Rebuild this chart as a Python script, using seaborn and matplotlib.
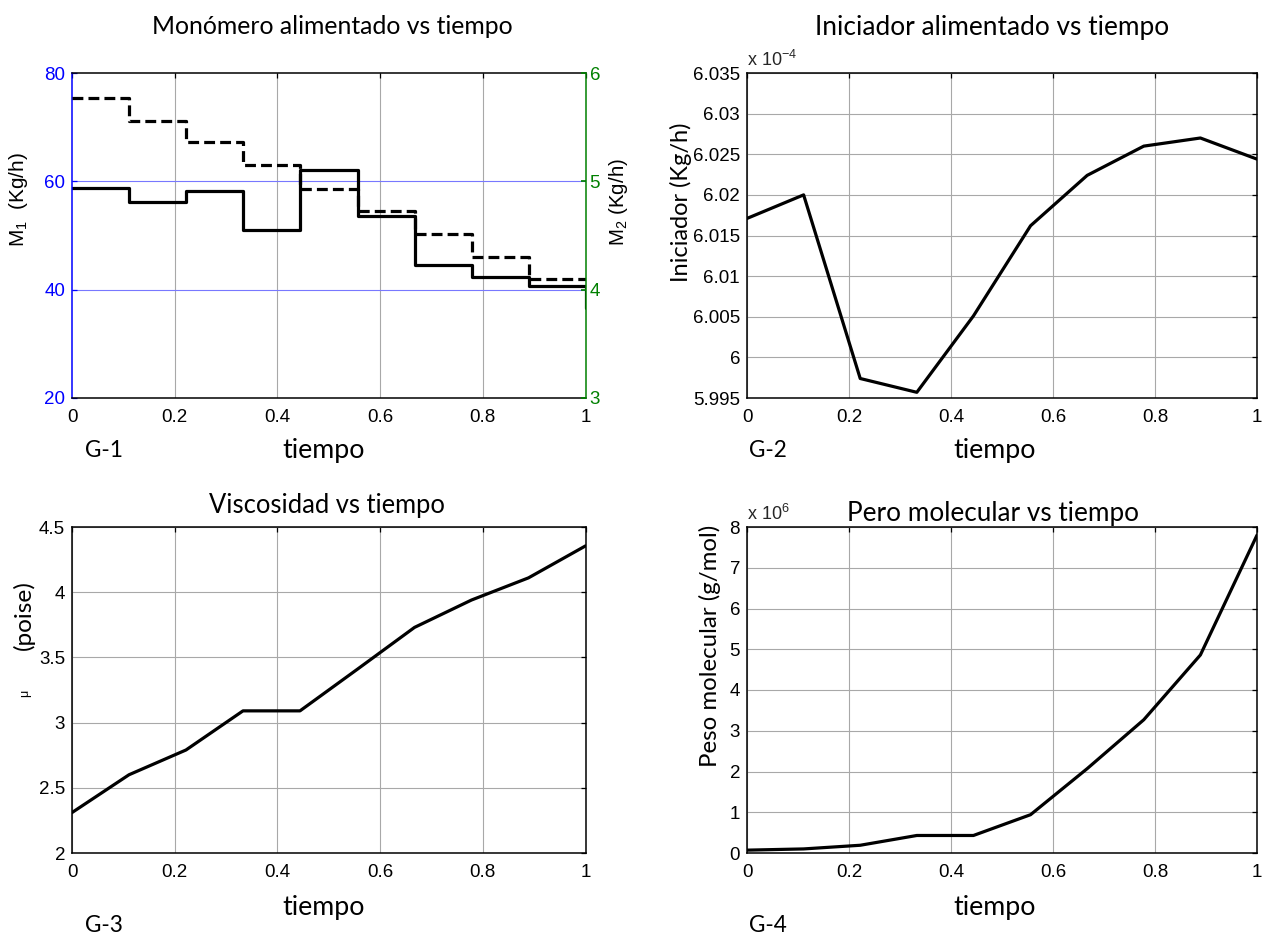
import numpy as np
import pandas as pd
import matplotlib
matplotlib.use("Agg")
import matplotlib.pyplot as plt
import seaborn as sns
from matplotlib.ticker import FuncFormatter, FixedLocator

# ---------------- data ----------------
tiempo = [0.0, 0.111, 0.222, 0.333, 0.444, 0.556, 0.667, 0.778, 0.889, 1.0]
m1_kgh = [58.8, 56.2, 58.3, 51.0, 62.1, 53.6, 44.6, 42.3, 40.6, 36.6]
m2_kgh = [5.77, 5.56, 5.36, 5.15, 4.93, 4.73, 4.51, 4.30, 4.10, 4.10]
iniciador = [6.0171e-4, 6.0200e-4, 5.9974e-4, 5.9957e-4, 6.0051e-4,
             6.0162e-4, 6.0224e-4, 6.0260e-4, 6.0270e-4, 6.0244e-4]
viscosidad = [2.31, 2.60, 2.79, 3.09, 3.09, 3.41, 3.73, 3.94, 4.11, 4.355]
peso_mol = [0.07e6, 0.10e6, 0.19e6, 0.43e6, 0.43e6, 0.94e6, 2.07e6,
            3.27e6, 4.86e6, 7.80e6]
x_ticks = [0, 0.2, 0.4, 0.6, 0.8, 1.0]
m1_ticks = [20, 40, 60, 80]
m2_ticks = [3, 4, 5, 6]
ini_ticks = [5.995e-4, 6.0e-4, 6.005e-4, 6.01e-4, 6.015e-4, 6.02e-4,
             6.025e-4, 6.03e-4, 6.035e-4]
vis_ticks = [2, 2.5, 3, 3.5, 4, 4.5]
peso_ticks = [0, 1e6, 2e6, 3e6, 4e6, 5e6, 6e6, 7e6, 8e6]

df = pd.DataFrame({"tiempo": tiempo, "m1": m1_kgh, "m2": m2_kgh,
                   "ini": iniciador, "vis": viscosidad, "peso": peso_mol})

# ---------------- style ----------------
sns.set_theme(style="white")
MAT = ["Liberation Sans", "DejaVu Sans"]
CAL = ["Lato", "DejaVu Sans"]
plt.rcParams["font.family"] = MAT
plt.rcParams["mathtext.default"] = "regular"
plt.rcParams["axes.linewidth"] = 1.1

W, H = 1262, 933
fig = plt.figure(figsize=(W / 100, H / 100), dpi=100)
fig.patch.set_facecolor("white")


def box(l, r, t, b):
    return [l / W, 1 - b / H, (r - l) / W, (b - t) / H]


def P(x, y):
    return x / W, 1 - y / H


GRID = "#a8a8a8"
BLUE = "#0000ff"
GREEN = "#008000"
LW = 2.3
TICKFS = 13.5
RIGHT = 1257


def base(ax):
    ax.set_facecolor("white")
    for s in ax.spines.values():
        s.set_color("black")
        s.set_linewidth(1.1)
    ax.tick_params(direction="in", length=3.5, width=0.9, top=True, right=True,
                   labelsize=TICKFS, pad=5, colors="black")
    ax.tick_params(axis="x", pad=8)
    ax.set_xlim(0, 1)
    ax.xaxis.set_major_locator(FixedLocator(x_ticks))
    ax.xaxis.set_major_formatter(FuncFormatter(lambda v, p: f"{v:g}"))
    ax.set_xlabel("")
    ax.set_ylabel("")


renderer = None


def fit(t, target, vertical=False):
    global renderer
    if renderer is None:
        renderer = fig.canvas.get_renderer()
    bb = t.get_window_extent(renderer)
    cur = bb.height if vertical else bb.width
    t.set_fontsize(t.get_fontsize() * target / cur)
    return t


def ctext(x, y, s, target=None, fs=18, family=CAL, rot=0, color="black", vertical=False):
    t = fig.text(*P(x, y), s, ha="center", va="center", fontsize=fs,
                 family=family, rotation=rot, color=color)
    if target:
        fit(t, target, vertical)
    return t


# ---------------- G-1 ----------------
ax1 = fig.add_axes(box(72, 585.5, 73, 398))
base(ax1)
ax1.set_ylim(20, 80)
ax1.yaxis.set_major_locator(FixedLocator(m1_ticks))
ax1.tick_params(axis="y", colors=BLUE, right=False)
ax1.spines["left"].set_color(BLUE)
ax1.spines["right"].set_visible(False)
for v in x_ticks[1:-1]:
    ax1.axvline(v, color=GRID, lw=0.8, zorder=0)
for v in m1_ticks[1:-1]:
    ax1.axhline(v, color="#7878ff", lw=0.8, zorder=0)
sns.lineplot(data=df, x="tiempo", y="m1", ax=ax1, color="black", lw=LW,
             drawstyle="steps-post", estimator=None, sort=False)
ax1.set_xlabel("")
ax1.set_ylabel("")

ax2 = ax1.twinx()
ax2.set_ylim(3, 6)
sns.lineplot(data=df, x="tiempo", y="m2", ax=ax2, color="black", lw=LW,
             drawstyle="steps-post", estimator=None, sort=False,
             linestyle=(0, (3.4, 1.6)))
ax2.set_xlabel("")
ax2.set_ylabel("")
ax2.yaxis.set_major_locator(FixedLocator(m2_ticks))
ax2.yaxis.set_major_formatter(FuncFormatter(lambda v, p: f"{v:g}"))
ax2.tick_params(axis="y", direction="in", length=3.5, colors=GREEN,
                labelsize=TICKFS, pad=3, left=False, right=True)
for nm, s in ax2.spines.items():
    s.set_visible(nm == "right")
ax2.spines["right"].set_color(GREEN)
ax2.spines["right"].set_linewidth(1.1)
ax1.set_xlim(0, 1)

# ---------------- G-2 ----------------
ax3 = fig.add_axes(box(747, RIGHT, 73, 398))
base(ax3)
ax3.grid(True, color=GRID, lw=0.8)
ax3.set_axisbelow(True)
ax3.set_ylim(5.995e-4, 6.035e-4)
ax3.yaxis.set_major_locator(FixedLocator(ini_ticks))
ax3.yaxis.set_major_formatter(FuncFormatter(lambda v, p: f"{round(v / 1e-4, 4):g}"))
sns.lineplot(data=df, x="tiempo", y="ini", ax=ax3, color="black", lw=LW,
             estimator=None, sort=False)
ax3.set_xlabel("")
ax3.set_ylabel("")

# ---------------- G-3 ----------------
ax4 = fig.add_axes(box(72, 585.5, 527, 853))
base(ax4)
ax4.grid(True, color=GRID, lw=0.8)
ax4.set_axisbelow(True)
ax4.set_ylim(2, 4.5)
ax4.yaxis.set_major_locator(FixedLocator(vis_ticks))
ax4.yaxis.set_major_formatter(FuncFormatter(lambda v, p: f"{v:g}"))
sns.lineplot(data=df, x="tiempo", y="vis", ax=ax4, color="black", lw=LW,
             estimator=None, sort=False)
ax4.set_xlabel("")
ax4.set_ylabel("")

# ---------------- G-4 ----------------
ax5 = fig.add_axes(box(747, RIGHT, 527, 853))
base(ax5)
ax5.grid(True, color=GRID, lw=0.8)
ax5.set_axisbelow(True)
ax5.set_ylim(0, 8e6)
ax5.yaxis.set_major_locator(FixedLocator(peso_ticks))
ax5.yaxis.set_major_formatter(FuncFormatter(lambda v, p: f"{v / 1e6:g}"))
sns.lineplot(data=df, x="tiempo", y="peso", ax=ax5, color="black", lw=LW,
             estimator=None, sort=False)
ax5.set_xlabel("")
ax5.set_ylabel("")

for a in (ax1, ax3, ax4, ax5):
    a.set_xlim(0, 1)

# ---------------- texts ----------------
ctext(332, 27, "Monómero alimentado vs tiempo", target=360)
ctext(992, 28, "Iniciador alimentado vs tiempo", target=352)
ctext(327, 506, "Viscosidad vs tiempo", target=235)
ctext(993, 513, "Pero molecular vs tiempo", target=290)

for x, y in [(324, 450), (995, 450), (324, 908), (995, 908)]:
    ctext(x, y, "tiempo", target=82)
for x, y, s in [(104, 450, "G-1"), (768, 450, "G-2"), (104, 925, "G-3"), (768, 925, "G-4")]:
    ctext(x, y, s, target=38)

ctext(19, 200, "M$_1$  (Kg/h)", fs=13, family=MAT, rot=90, target=95, vertical=True)
ctext(619, 202, "M$_2$ (Kg/h)", fs=13, family=MAT, rot=90, target=88, vertical=True)
ctext(681, 202, "Iniciador (Kg/h)", rot=90, target=159, vertical=True)
ctext(710, 646, "Peso molecular (g/mol)", rot=90, target=242, vertical=True)
ctext(24, 615, "(poise)", rot=90, target=70, vertical=True)
ctext(25, 693, "μ", fs=9, family=MAT, rot=90)

fig.text(*P(747, 66), "x 10$^{-4}$", ha="left", va="baseline", fontsize=13, family=MAT)
fig.text(*P(747, 520), "x 10$^{6}$", ha="left", va="baseline", fontsize=13, family=MAT)

fig.savefig("out.png", dpi=100)
